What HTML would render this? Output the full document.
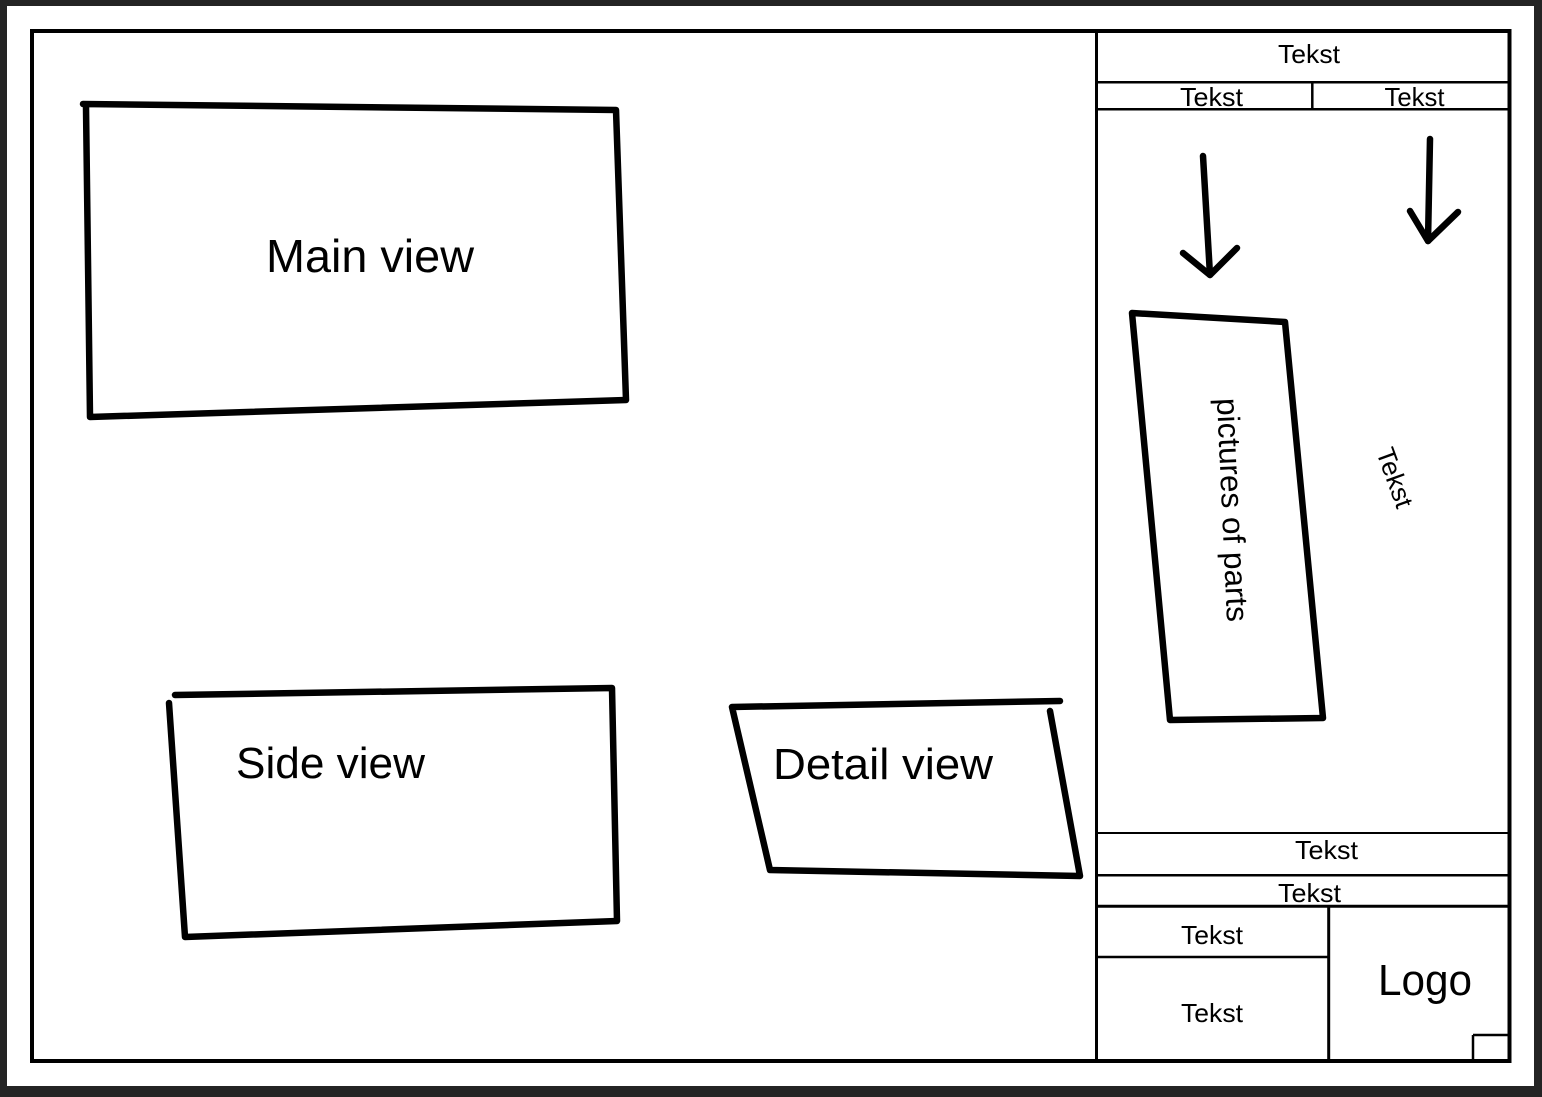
<!DOCTYPE html>
<html>
<head>
<meta charset="utf-8">
<style>
  html,body{margin:0;padding:0;background:#242424;}
  svg{display:block;}
  text{font-family:"Liberation Sans",Arial,sans-serif;fill:#000;}
</style>
</head>
<body>
<svg width="1542" height="1097" viewBox="0 0 1542 1097" xmlns="http://www.w3.org/2000/svg">
  <rect x="0" y="0" width="1542" height="1097" fill="#242424"/>
  <rect x="7" y="6" width="1527" height="1080" fill="#ffffff"/>

  <!-- inner frame -->
  <rect x="32" y="31" width="1477.5" height="1030" fill="none" stroke="#000" stroke-width="4"/>

  <!-- title block lines -->
  <g stroke="#000" fill="none">
    <line x1="1096.5" y1="31" x2="1096.5" y2="1061" stroke-width="3"/>
    <line x1="1096.5" y1="82.3" x2="1509.5" y2="82.3" stroke-width="2.5"/>
    <line x1="1096.5" y1="109.3" x2="1509.5" y2="109.3" stroke-width="2.5"/>
    <line x1="1312.3" y1="82.3" x2="1312.3" y2="109.3" stroke-width="2.5"/>
    <line x1="1096.5" y1="833" x2="1509.5" y2="833" stroke-width="2"/>
    <line x1="1096.5" y1="875.3" x2="1509.5" y2="875.3" stroke-width="2.5"/>
    <line x1="1096.5" y1="906.3" x2="1509.5" y2="906.3" stroke-width="3"/>
    <line x1="1328.7" y1="906.3" x2="1328.7" y2="1061" stroke-width="3"/>
    <line x1="1096.5" y1="957" x2="1328.7" y2="957" stroke-width="2.5"/>
    <line x1="1473" y1="1035" x2="1473" y2="1061" stroke-width="2.5"/>
    <line x1="1473" y1="1035" x2="1509.5" y2="1035" stroke-width="2.5"/>
  </g>

  <!-- hand-drawn shapes -->
  <g stroke="#000" fill="none" stroke-width="6.5" stroke-linecap="round" stroke-linejoin="round">
    <!-- main view -->
    <path d="M83,104 L616,110 L626,400 L90,417 L86,107"/>
    <!-- side view -->
    <path d="M175,695 L612,688 L617,921 L185,937 L169,703"/>
    <!-- detail view -->
    <path d="M1060,701 L732,707 L770,870 L1080,876 L1050,711"/>
    <!-- pictures of parts -->
    <path d="M1132,313 L1285,322 L1323,718 L1170,720 Z"/>
    <!-- arrows -->
    <path d="M1203,156 L1210,275"/>
    <path d="M1183,253 L1210,275 L1237,248"/>
    <path d="M1430,139 L1428,241"/>
    <path d="M1410,211 L1428,241 L1458,212"/>
  </g>

  <!-- labels -->
  <text x="266" y="272" font-size="46" textLength="208" lengthAdjust="spacingAndGlyphs">Main view</text>
  <text x="236" y="778" font-size="44" textLength="189" lengthAdjust="spacingAndGlyphs">Side view</text>
  <text x="773" y="779" font-size="44" textLength="220" lengthAdjust="spacingAndGlyphs">Detail view</text>

  <g font-size="26" text-anchor="middle">
    <text x="1309" y="63" textLength="62" lengthAdjust="spacingAndGlyphs">Tekst</text>
    <text x="1211.5" y="106" textLength="63" lengthAdjust="spacingAndGlyphs">Tekst</text>
    <text x="1414.5" y="106" textLength="60" lengthAdjust="spacingAndGlyphs">Tekst</text>
    <text x="1326.5" y="859" textLength="63" lengthAdjust="spacingAndGlyphs">Tekst</text>
    <text x="1309.5" y="902" textLength="63" lengthAdjust="spacingAndGlyphs">Tekst</text>
    <text x="1212" y="944" textLength="62" lengthAdjust="spacingAndGlyphs">Tekst</text>
    <text x="1212" y="1022" textLength="62" lengthAdjust="spacingAndGlyphs">Tekst</text>
  </g>
  <text x="1425" y="995" font-size="44" text-anchor="middle" textLength="94" lengthAdjust="spacingAndGlyphs">Logo</text>

  <g transform="translate(1230,510) rotate(87.4)">
    <text x="0" y="8" font-size="31" text-anchor="middle" textLength="224" lengthAdjust="spacingAndGlyphs">pictures of parts</text>
  </g>
  <g transform="translate(1394,478) rotate(70)">
    <text x="0" y="8" font-size="26" text-anchor="middle" textLength="62" lengthAdjust="spacingAndGlyphs">Tekst</text>
  </g>
</svg>
</body>
</html>
